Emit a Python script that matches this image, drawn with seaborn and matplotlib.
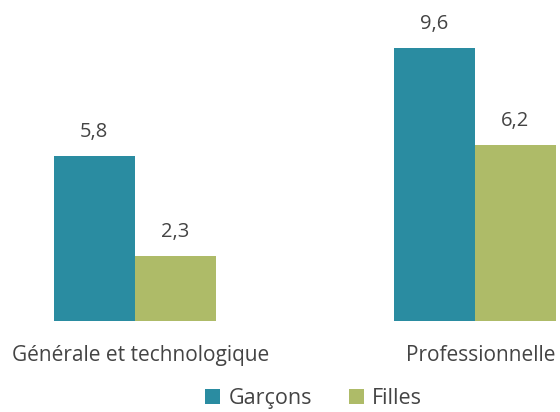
import matplotlib
matplotlib.use("Agg")
import matplotlib.pyplot as plt
import matplotlib.transforms as mtransforms
import seaborn as sns
import pandas as pd

# DATA
categories = ["Générale et technologique", "Professionnelle"]
series = ["Garçons", "Filles"]
garcons = [5.8, 9.6]
filles = [2.3, 6.2]
colors = ["#2a8ca1", "#aebb68"]

df = pd.DataFrame({
    "filiere": categories * 2,
    "sexe": [series[0]] * 2 + [series[1]] * 2,
    "valeur": garcons + filles,
})

sns.set_style("white")
plt.rcParams["font.family"] = ["Open Sans", "DejaVu Sans"]
text_col = "#444444"
fs = 14.5

fig = plt.figure(figsize=(5.6, 4.12), dpi=100)
ax = fig.add_axes([0, 0.221, 1, 0.779])
sns.barplot(data=df, x="filiere", y="valeur", hue="sexe", palette=colors,
            width=0.476, saturation=1, linewidth=0, ax=ax)

for cont in ax.containers:
    ax.bar_label(cont, labels=[f"{v:.1f}".replace(".", ",") for v in cont.datavalues],
                 padding=10, fontsize=fs, color=text_col)

ax.set_xlim(-0.396, 1.251)
ax.set_ylim(0, 11.29)
ax.set_xlabel("")
ax.set_ylabel("")
ax.set_yticks([])
ax.tick_params(axis="x", length=0, pad=17, labelsize=15, labelcolor=text_col)
shift = mtransforms.ScaledTranslation(6 / 100, 0, fig.dpi_scale_trans)
for lab in ax.get_xticklabels():
    lab.set_transform(lab.get_transform() + shift)
sns.despine(ax=ax, left=True, bottom=True)

h, l = ax.get_legend_handles_labels()
ax.get_legend().remove()
fig.legend(h, l, loc="lower center", bbox_to_anchor=(0.56, -0.04), ncol=2,
           frameon=False, fontsize=15.5, handlelength=0.7, handleheight=0.7,
           columnspacing=1.7, handletextpad=0.4, labelcolor=text_col)

fig.savefig("out.png", dpi=100)
